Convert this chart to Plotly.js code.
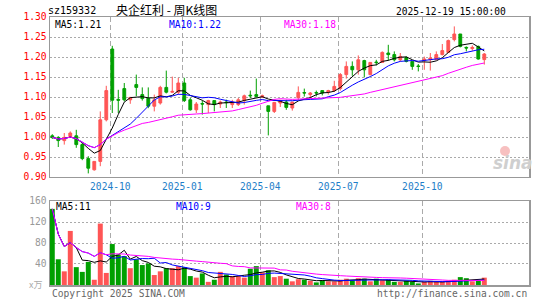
<!DOCTYPE html>
<html>
<head>
<meta charset="utf-8">
<script src="https://cdn.plot.ly/plotly-3.0.1.min.js"></script>
<style>html,body{margin:0;padding:0;background:#fff;}#chart{width:545px;height:300px;}</style>
</head>
<body>
<div id="chart"></div>
<script>
// Weekly bars (last trading day of each week)
const dates = [
"2024-08-02","2024-08-09","2024-08-16","2024-08-23","2024-08-30","2024-09-06","2024-09-13","2024-09-20","2024-09-27","2024-09-30",
"2024-10-11","2024-10-18","2024-10-25","2024-11-01","2024-11-08","2024-11-15","2024-11-22","2024-11-29","2024-12-06","2024-12-13",
"2024-12-20","2024-12-27","2025-01-03","2025-01-10","2025-01-17","2025-01-24","2025-01-27","2025-02-07","2025-02-14","2025-02-21",
"2025-02-28","2025-03-07","2025-03-14","2025-03-21","2025-03-28","2025-04-03","2025-04-11","2025-04-18","2025-04-25","2025-04-30",
"2025-05-09","2025-05-16","2025-05-23","2025-05-30","2025-06-06","2025-06-13","2025-06-20","2025-06-27","2025-07-04","2025-07-11",
"2025-07-18","2025-07-25","2025-08-01","2025-08-08","2025-08-15","2025-08-22","2025-08-29","2025-09-05","2025-09-12","2025-09-19",
"2025-09-26","2025-09-30","2025-10-10","2025-10-17","2025-10-24","2025-10-31","2025-11-07","2025-11-14","2025-11-21","2025-11-28",
"2025-12-05","2025-12-12","2025-12-19"];

const openP = [
1.003,0.999,0.991,1.001,1.003,0.981,0.946,0.918,0.939,1.043,
1.220,1.094,1.121,1.093,1.131,1.106,1.097,1.077,1.085,1.124,
1.112,1.112,1.135,1.093,1.068,1.0835,1.081,1.091,1.0825,1.0875,
1.081,1.081,1.091,1.1045,1.106,1.100,1.078,1.064,1.085,1.0875,
1.0725,1.0985,1.111,1.106,1.111,1.116,1.1125,1.116,1.121,1.156,
1.1765,1.168,1.191,1.156,1.1875,1.1865,1.210,1.206,1.193,1.199,
1.189,1.1775,1.191,1.1935,1.1935,1.206,1.2115,1.2435,1.2575,1.224,
1.221,1.2265,1.1935];
const highP = [
1.007,1.002,1.010,1.014,1.018,0.985,0.952,0.940,1.064,1.128,
1.228,1.118,1.135,1.100,1.156,1.124,1.124,1.106,1.128,1.166,
1.151,1.148,1.148,1.098,1.0875,1.091,1.093,1.091,1.091,1.0935,
1.093,1.0975,1.106,1.116,1.146,1.106,1.078,1.0875,1.093,1.093,
1.0875,1.1265,1.121,1.1125,1.116,1.116,1.118,1.1405,1.160,1.189,
1.189,1.204,1.193,1.1875,1.193,1.214,1.2305,1.214,1.210,1.2015,
1.189,1.1825,1.201,1.210,1.214,1.2325,1.2435,1.2765,1.2575,1.2265,
1.229,1.2285,1.210];
const lowP = [
0.995,0.975,0.981,0.999,0.973,0.942,0.909,0.916,0.927,1.039,
1.060,1.060,1.089,1.083,1.102,1.091,1.072,1.064,1.081,1.109,
1.110,1.106,1.0875,1.066,1.060,1.056,1.060,1.064,1.0725,1.0725,
1.0725,1.0775,1.081,1.0975,1.099,1.0975,1.004,1.060,1.075,1.068,
1.066,1.0925,1.101,1.0975,1.1015,1.104,1.106,1.1125,1.116,1.146,
1.153,1.156,1.149,1.154,1.179,1.186,1.191,1.189,1.189,1.1865,
1.168,1.164,1.168,1.166,1.1935,1.204,1.210,1.239,1.224,1.214,
1.216,1.1935,1.181];
const closeP = [
0.999,0.991,0.999,1.010,0.981,0.946,0.922,0.939,1.043,1.116,
1.092,1.092,1.093,1.099,1.124,1.096,1.077,1.093,1.124,1.112,
1.114,1.135,1.091,1.068,1.0825,1.0825,1.091,1.081,1.0875,1.086,
1.0875,1.093,1.103,1.103,1.1015,1.103,1.064,1.0865,1.0915,1.074,
1.0875,1.1115,1.110,1.110,1.110,1.110,1.116,1.1265,1.156,1.1765,
1.168,1.193,1.168,1.1865,1.186,1.2115,1.206,1.193,1.2015,1.189,
1.1765,1.1765,1.195,1.1975,1.206,1.216,1.241,1.2575,1.2265,1.2225,
1.224,1.195,1.2075];
// Volume, unit: 万
const volume = [
145,49,26,103,34,25,44,10,117,23,
78,58,55,32,49,38,41,19,26,32,
32,36,34,17,14,22,6,10,25,20,
17,17,14,31,36,24,28,15,17,12,
7,11,10,8,5,9,7,7,10,12,
9,13,12,7,12,9,10,6,6,8,
6,3,6,8,6,6,8,10,15,13,
7,8,14];

const priceTicks = [0.90,0.95,1.00,1.05,1.10,1.15,1.20,1.25,1.30];
const volTicks = [40,80,120,160];
const maPeriods = [5,10,30];
const maColors = ['#000000','#0000ff','#ff00ff'];
const priceMaLabels = ['MA5:1.21','MA10:1.22','MA30:1.18'];
const volMaLabels = ['MA5:11','MA10:9','MA30:8'];
const titleCode = 'sz159332';
const titleName = '央企红利 - 周K线图';
const stampText = '2025-12-19 15:00:00';

const RED = '#ff5555', GREEN = '#00a000';
const MONO = 'DejaVu Sans Mono, monospace';
const FS = 9.6;

function ma(arr, n) {
  return arr.map((v, i) => {
    const s = Math.max(0, i - n + 1);
    let t = 0;
    for (let k = s; k <= i; k++) t += arr[k];
    return t / (i - s + 1);
  });
}

const idx = dates.map((d, i) => i);
const tickvals = [], ticktext = [];
dates.forEach((d, i) => {
  if (i === 0) return;
  const m = d.slice(5, 7), pm = dates[i - 1].slice(5, 7);
  if (m !== pm && ['01','04','07','10'].includes(m)) {
    tickvals.push(i - 0.33);
    ticktext.push(d.slice(0, 7));
  }
});

const traces = [];
traces.push({
  type: 'candlestick', x: idx, open: openP, high: highP, low: lowP, close: closeP,
  xaxis: 'x', yaxis: 'y',
  increasing: {line: {color: RED, width: 1}, fillcolor: RED},
  decreasing: {line: {color: GREEN, width: 1}, fillcolor: GREEN},
  whiskerwidth: 0, hoverinfo: 'skip'
});
maPeriods.forEach((p, j) => {
  traces.push({type: 'scatter', mode: 'lines', x: idx, y: ma(closeP, p), xaxis: 'x', yaxis: 'y',
    line: {color: maColors[j], width: 1}, hoverinfo: 'skip'});
});
traces.push({
  type: 'bar', x: idx, y: volume, xaxis: 'x2', yaxis: 'y2',
  marker: {color: closeP.map((c, i) => c >= openP[i] ? RED : GREEN), line: {width: 0}},
  hoverinfo: 'skip'
});
maPeriods.forEach((p, j) => {
  traces.push({type: 'scatter', mode: 'lines', x: idx, y: ma(volume, p), xaxis: 'x2', yaxis: 'y2',
    line: {color: maColors[j], width: 1}, hoverinfo: 'skip'});
});

// pixel -> paper helpers (plot area x 50..529, y 17..285)
const px = v => (v - 50) / 479;
const py = v => (285 - v) / 268;

const ann = [];
ann.push({text: titleName, x: px(114), y: py(10), xanchor: 'left', yanchor: 'middle', font: {family: 'Noto Sans CJK SC', size: 12, color: '#000'}});
ann.push({text: stampText, x: px(508), y: py(11), xanchor: 'right', yanchor: 'middle', font: {family: MONO, size: FS, color: '#000'}});
const pmX = [53, 167, 282];
priceMaLabels.forEach((t, j) => ann.push({text: t, x: px(pmX[j]), y: py(24), xanchor: 'left', yanchor: 'middle', font: {family: MONO, size: FS, color: maColors[j]}}));
const vmX = [54, 174, 294];
volMaLabels.forEach((t, j) => ann.push({text: t, x: px(vmX[j]), y: py(206.5), xanchor: 'left', yanchor: 'middle', font: {family: MONO, size: FS, color: maColors[j]}}));
ann.push({text: 'x万', x: px(44), y: py(284), xanchor: 'right', yanchor: 'middle', font: {family: 'Noto Sans CJK SC', size: 9, color: '#aaa'}});
ann.push({text: 'Copyright 2025 SINA.COM', x: px(50), y: py(293), xanchor: 'left', yanchor: 'middle', font: {family: MONO, size: FS, color: '#666'}});
ann.push({text: 'http://finance.sina.com.cn', x: px(529), y: py(293), xanchor: 'right', yanchor: 'middle', font: {family: MONO, size: FS, color: '#666'}});
ann.push({text: '<b><i>sina</i></b>', x: px(513), y: py(163), xanchor: 'center', yanchor: 'middle', font: {family: 'DejaVu Sans', size: 17, color: '#cfcfcf'}});
ann.forEach(a => { a.xref = 'paper'; a.yref = 'paper'; a.showarrow = false; });

const gridV = {showgrid: true, gridcolor: '#aaaaaa', griddash: '5px,3px', gridwidth: 1};
const frame = {showline: true, mirror: true, linecolor: '#999', linewidth: 1.5, zeroline: false, ticks: ''};

const layout = {
  width: 545, height: 300,
  margin: {l: 50, r: 16, t: 17, b: 15},
  paper_bgcolor: '#fff', plot_bgcolor: '#fff',
  title: {text: titleCode, font: {family: MONO, size: 10, color: '#000'},
    xref: 'container', yref: 'container', x: 48 / 545, xanchor: 'left', y: 1 - 10 / 300, yanchor: 'middle'},
  showlegend: false, boxgap: 0.33, bargap: 0.17,
  xaxis: Object.assign({domain: [0, 1], anchor: 'y', range: [-0.38, 79.45], tickmode: 'array', tickvals: tickvals, ticktext: ticktext,
    tickfont: {family: MONO, size: FS, color: '#1e7ec8'}, rangeslider: {visible: false}}, gridV, frame),
  yaxis: Object.assign({domain: [0.403, 1], anchor: 'x', range: [0.9, 1.3], tickmode: 'array', tickvals: priceTicks,
    ticktext: priceTicks.map(v => v.toFixed(2)),
    tickfont: {family: MONO, size: FS, color: '#ff0000'}, showgrid: true, gridcolor: '#aaaaaa', griddash: '2px,2px', gridwidth: 1}, frame),
  xaxis2: Object.assign({domain: [0, 1], anchor: 'y2', matches: 'x', range: [-0.38, 79.45], tickmode: 'array', tickvals: tickvals,
    showticklabels: false}, gridV, frame),
  yaxis2: Object.assign({domain: [0, 0.3134], anchor: 'x2', range: [0, 160], tickmode: 'array', tickvals: volTicks,
    tickfont: {family: MONO, size: FS, color: '#999'}, showgrid: true, gridcolor: '#aaaaaa', griddash: '2px,2px', gridwidth: 1}, frame),
  annotations: ann,
  shapes: [{type: 'circle', xref: 'paper', yref: 'paper', x0: px(500), x1: px(510), y0: py(156), y1: py(146),
    fillcolor: 'rgba(240,140,140,0.55)', line: {width: 0}}]
};

Plotly.newPlot('chart', traces, layout, {staticPlot: true, displayModeBar: false});
</script>
</body>
</html>
